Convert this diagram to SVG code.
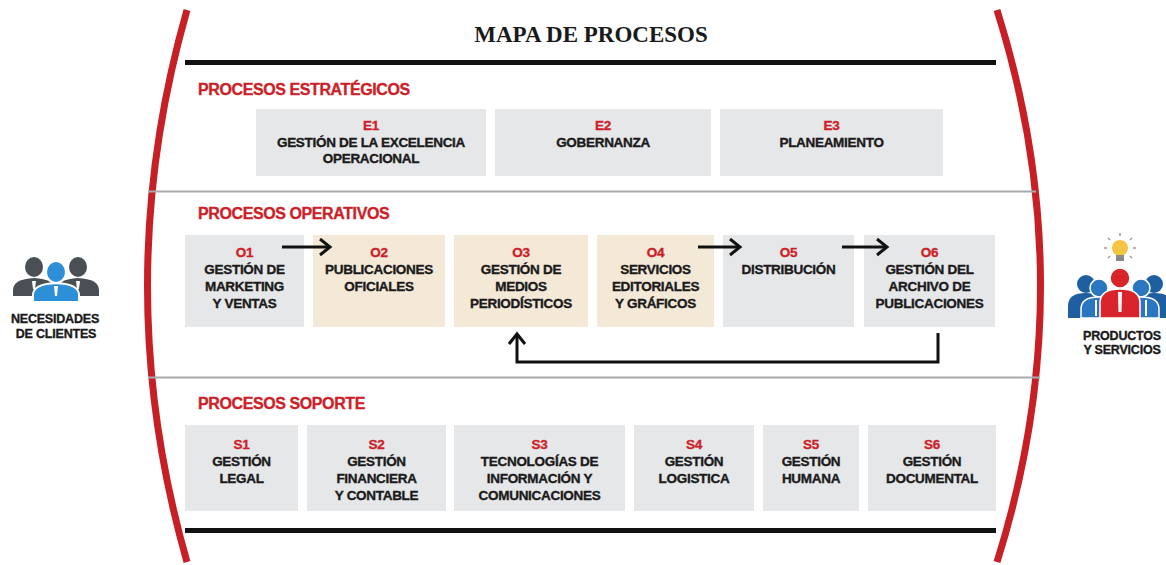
<svg xmlns="http://www.w3.org/2000/svg" width="1166" height="565" viewBox="0 0 1166 565">
<defs>
<style>
.t{font-family:"Liberation Sans",Arial,sans-serif;font-weight:bold;font-size:13.5px;fill:#1a1a1a;stroke:#1a1a1a;stroke-width:0.35px;text-anchor:middle;letter-spacing:-0.3px}
.c{fill:#cc1f29;stroke:#cc1f29}
.sec{font-family:"Liberation Sans",Arial,sans-serif;font-weight:bold;font-size:16px;fill:#cc1f29;stroke:#cc1f29;stroke-width:0.35px;letter-spacing:-0.4px}
.g{fill:#e6e7e8}
.b{fill:#f4e8d7}
.arc{fill:none;stroke:#c62026;stroke-width:7}
.con{fill:none;stroke:#111;stroke-width:3;marker-end:url(#chev)}
.lbl{font-family:"Liberation Sans",Arial,sans-serif;font-weight:bold;font-size:12.5px;fill:#1a1a1a;stroke:#1a1a1a;stroke-width:0.35px;text-anchor:middle;letter-spacing:-0.2px}
</style>
<marker id="chev" markerUnits="userSpaceOnUse" markerWidth="14" markerHeight="20" refX="11" refY="9" orient="auto" viewBox="0 0 14 20">
<path d="M1,1 L11,9 L1,17" fill="none" stroke="#111" stroke-width="3"/>
</marker>
</defs>
<rect width="1166" height="565" fill="#ffffff"/>

<g id="frame">
<path class="arc" d="M187,10 Q108,286 187,562"/>
<path class="arc" d="M997,10 Q1084,286 997,562"/>
<text x="591" y="42" font-family="Liberation Serif,'Times New Roman',serif" font-weight="bold" font-size="23" fill="#1a1a1a" text-anchor="middle">MAPA DE PROCESOS</text>
<rect x="185" y="60" width="811" height="5" fill="#111"/>
<rect x="148" y="190.5" width="888" height="2" fill="#a7a9ac"/>
<rect x="148" y="376.5" width="892" height="2" fill="#a7a9ac"/>
<rect x="185" y="528" width="811" height="5" fill="#111"/>
<text class="sec" x="198" y="95">PROCESOS ESTRATÉGICOS</text>
<text class="sec" x="198" y="219">PROCESOS OPERATIVOS</text>
<text class="sec" x="198" y="409">PROCESOS SOPORTE</text>
</g>

<g id="E1"><rect class="g" x="256" y="109" width="230" height="67"/>
<text class="t"><tspan class="c" x="371" y="130">E1</tspan><tspan x="371" y="147">GESTIÓN DE LA EXCELENCIA</tspan><tspan x="371" y="163">OPERACIONAL</tspan></text></g>
<g id="E2"><rect class="g" x="495" y="109" width="216" height="67"/>
<text class="t"><tspan class="c" x="603" y="130">E2</tspan><tspan x="603" y="147">GOBERNANZA</tspan></text></g>
<g id="E3"><rect class="g" x="720" y="109" width="223" height="67"/>
<text class="t"><tspan class="c" x="831.5" y="130">E3</tspan><tspan x="831.5" y="147">PLANEAMIENTO</tspan></text></g>

<g id="O1"><rect class="g" x="185" y="235" width="119" height="92"/>
<text class="t"><tspan class="c" x="244.5" y="257">O1</tspan><tspan x="244.5" y="274">GESTIÓN DE</tspan><tspan x="244.5" y="291">MARKETING</tspan><tspan x="244.5" y="308">Y VENTAS</tspan></text></g>
<g id="O2"><rect class="b" x="313" y="235" width="132" height="92"/>
<text class="t"><tspan class="c" x="379" y="257">O2</tspan><tspan x="379" y="274">PUBLICACIONES</tspan><tspan x="379" y="291">OFICIALES</tspan></text></g>
<g id="O3"><rect class="b" x="454" y="235" width="134" height="92"/>
<text class="t"><tspan class="c" x="521" y="257">O3</tspan><tspan x="521" y="274">GESTIÓN DE</tspan><tspan x="521" y="291">MEDIOS</tspan><tspan x="521" y="308">PERIODÍSTICOS</tspan></text></g>
<g id="O4"><rect class="b" x="597" y="235" width="117" height="92"/>
<text class="t"><tspan class="c" x="655.5" y="257">O4</tspan><tspan x="655.5" y="274">SERVICIOS</tspan><tspan x="655.5" y="291">EDITORIALES</tspan><tspan x="655.5" y="308">Y GRÁFICOS</tspan></text></g>
<g id="O5"><rect class="g" x="723" y="235" width="131" height="92"/>
<text class="t"><tspan class="c" x="788.5" y="257">O5</tspan><tspan x="788.5" y="274">DISTRIBUCIÓN</tspan></text></g>
<g id="O6"><rect class="g" x="864" y="235" width="131" height="92"/>
<text class="t"><tspan class="c" x="929.5" y="257">O6</tspan><tspan x="929.5" y="274">GESTIÓN DEL</tspan><tspan x="929.5" y="291">ARCHIVO DE</tspan><tspan x="929.5" y="308">PUBLICACIONES</tspan></text></g>

<g id="S1"><rect class="g" x="185" y="425" width="113" height="86"/>
<text class="t"><tspan class="c" x="241.5" y="449">S1</tspan><tspan x="241.5" y="466">GESTIÓN</tspan><tspan x="241.5" y="483">LEGAL</tspan></text></g>
<g id="S2"><rect class="g" x="307" y="425" width="139" height="86"/>
<text class="t"><tspan class="c" x="376.5" y="449">S2</tspan><tspan x="376.5" y="466">GESTIÓN</tspan><tspan x="376.5" y="483">FINANCIERA</tspan><tspan x="376.5" y="500">Y CONTABLE</tspan></text></g>
<g id="S3"><rect class="g" x="454" y="425" width="171" height="86"/>
<text class="t"><tspan class="c" x="539.5" y="449">S3</tspan><tspan x="539.5" y="466">TECNOLOGÍAS DE</tspan><tspan x="539.5" y="483">INFORMACIÓN Y</tspan><tspan x="539.5" y="500">COMUNICACIONES</tspan></text></g>
<g id="S4"><rect class="g" x="634" y="425" width="120" height="86"/>
<text class="t"><tspan class="c" x="694" y="449">S4</tspan><tspan x="694" y="466">GESTIÓN</tspan><tspan x="694" y="483">LOGISTICA</tspan></text></g>
<g id="S5"><rect class="g" x="763" y="425" width="96" height="86"/>
<text class="t"><tspan class="c" x="811" y="449">S5</tspan><tspan x="811" y="466">GESTIÓN</tspan><tspan x="811" y="483">HUMANA</tspan></text></g>
<g id="S6"><rect class="g" x="868" y="425" width="128" height="86"/>
<text class="t"><tspan class="c" x="932" y="449">S6</tspan><tspan x="932" y="466">GESTIÓN</tspan><tspan x="932" y="483">DOCUMENTAL</tspan></text></g>

<g id="connectors">
<path class="con" d="M282,247 H330"/>
<path class="con" d="M698,247 H740"/>
<path class="con" d="M842,247 H887"/>
<path class="con" d="M938,333 V362 H517 V334"/>
</g>

<g id="clientes">
<ellipse cx="34" cy="267" rx="9" ry="10" fill="#4a4f55"/>
<path d="M13,296 V290 Q13,279 34,278 Q55,279 55,290 V296 Z" fill="#4a4f55"/>
<ellipse cx="78" cy="267" rx="9" ry="10" fill="#4a4f55"/>
<path d="M57,296 V290 Q57,279 78,278 Q99,279 99,290 V296 Z" fill="#4a4f55"/>
<path d="M32,281 h4 l-1,8 h-2 Z M76,281 h4 l-1,8 h-2 Z" fill="#ffffff"/>
<ellipse cx="56" cy="272" rx="10" ry="11" fill="#2d8fd8" stroke="#ffffff" stroke-width="2"/>
<path d="M33,302 V295 Q33,284 56,283 Q79,284 79,295 V302 Z" fill="#2d8fd8" stroke="#ffffff" stroke-width="2"/>
<path d="M54,286 h4 l-1,10 h-2 Z" fill="#ffffff"/>
<text class="lbl" x="55" y="323">NECESIDADES</text>
<text class="lbl" x="56" y="338">DE CLIENTES</text>
</g>

<g id="productos">
<g stroke="#9a9a9a" stroke-width="1.5">
<line x1="1120" y1="233" x2="1120" y2="236"/>
<line x1="1108" y1="238" x2="1110" y2="240"/>
<line x1="1132" y1="238" x2="1130" y2="240"/>
<line x1="1104" y1="248" x2="1107" y2="248"/>
<line x1="1136" y1="248" x2="1133" y2="248"/>
<line x1="1108" y1="258" x2="1110" y2="256"/>
<line x1="1132" y1="258" x2="1130" y2="256"/>
</g>
<circle cx="1120" cy="248" r="8" fill="#f6c443"/>
<rect x="1116" y="255" width="8" height="6" fill="#8a8a8a"/>
<circle cx="1086" cy="284" r="9" fill="#1f5fa0"/>
<path d="M1068,318 V306 Q1068,293 1086,293 Q1104,293 1104,306 V318 Z" fill="#1f5fa0"/>
<circle cx="1154" cy="284" r="9" fill="#1f5fa0"/>
<path d="M1136,318 V306 Q1136,293 1154,293 Q1172,293 1172,306 V318 Z" fill="#1f5fa0"/>
<circle cx="1099" cy="288" r="9" fill="#2a76c0" stroke="#fff" stroke-width="1.5"/>
<path d="M1081,318 V309 Q1081,297 1099,297 Q1117,297 1117,309 V318 Z" fill="#2a76c0" stroke="#fff" stroke-width="1.5"/>
<circle cx="1141" cy="288" r="9" fill="#2a76c0" stroke="#fff" stroke-width="1.5"/>
<path d="M1123,318 V309 Q1123,297 1141,297 Q1159,297 1159,309 V318 Z" fill="#2a76c0" stroke="#fff" stroke-width="1.5"/>
<circle cx="1120" cy="278" r="10" fill="#d8242a" stroke="#fff" stroke-width="1.5"/>
<path d="M1100,318 V303 Q1100,289 1120,289 Q1140,289 1140,303 V318 Z" fill="#d8242a" stroke="#fff" stroke-width="1.5"/>
<path d="M1118,292 h4 l-0.5,20 h-3 Z M1095,300 h2 v16 h-2 Z M1145,300 h2 v16 h-2 Z" fill="#ffffff"/>
<text class="lbl" x="1122" y="340">PRODUCTOS</text>
<text class="lbl" x="1122" y="354">Y SERVICIOS</text>
</g>
</svg>
